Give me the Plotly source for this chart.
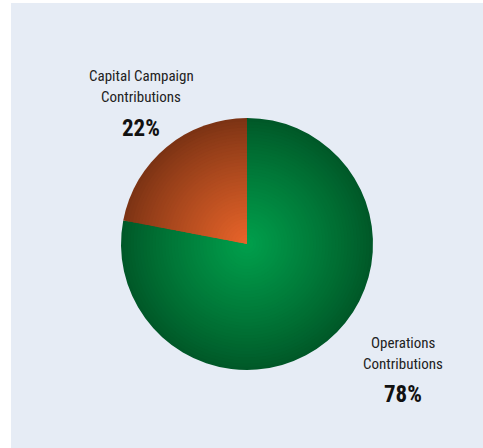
import plotly.graph_objects as go

categories = ["Capital Campaign Contributions", "Operations Contributions"]
label_lines = [["Capital Campaign", "Contributions"], ["Operations", "Contributions"]]
values = [22, 78]
pct_labels = ["22%", "78%"]

W, H = 483, 448
edge_cols = [(0x7c, 0x33, 0x14), (0x00, 0x58, 0x28)]
center_cols = [(0xea, 0x65, 0x2a), (0x00, 0xa0, 0x4c)]

cx, cy, R = 247, 244, 126
N = 40

def mix(a, b, t):
    return "rgb(%d,%d,%d)" % tuple(round(a[k] + (b[k] - a[k]) * t) for k in range(3))

order = [1, 0]  # draw clockwise from 12 o'clock: operations first, capital campaign ends at the top-left
fig = go.Figure()
for i in range(N):
    r = R * (1 - i / N)
    t = (i / N) ** 0.9
    cols = [mix(edge_cols[j], center_cols[j], t) for j in order]
    fig.add_trace(go.Pie(
        labels=[categories[j] for j in order], values=[values[j] for j in order],
        sort=False, direction="clockwise", rotation=0,
        marker=dict(colors=cols, line=dict(width=0)),
        textinfo="none", hoverinfo="skip", showlegend=False,
        domain=dict(x=[(cx - r) / W, (cx + r) / W], y=[1 - (cy + r) / H, 1 - (cy - r) / H]),
    ))

fig.add_shape(type="rect", xref="paper", yref="paper", x0=11 / W, x1=1, y0=0, y1=1 - 3 / H,
              fillcolor="#e6ecf5", line=dict(width=0), layer="below")

font_name = "Liberation Sans Narrow, Roboto Condensed, Open Sans, sans-serif"
label_pos = [(141, 76, 97, 128), (403, 343, 364, 394)]
for j in range(2):
    x, y1, y2, y3 = label_pos[j]
    for line, yy in zip(label_lines[j], (y1, y2)):
        fig.add_annotation(x=x / W, y=1 - yy / H, xref="paper", yref="paper", text=line,
                           showarrow=False, font=dict(family=font_name, size=15, color="#222222"),
                           xanchor="center", yanchor="middle")
    fig.add_annotation(x=x / W, y=1 - y3 / H, xref="paper", yref="paper", text="<b>%s</b>" % pct_labels[j],
                       showarrow=False, font=dict(family=font_name, size=23, color="#111111"),
                       xanchor="center", yanchor="middle")

fig.update_layout(width=W, height=H, margin=dict(l=0, r=0, t=0, b=0),
                  paper_bgcolor="white", plot_bgcolor="white")
fig.write_html("out.html", config={"displayModeBar": False},
               post_script="document.body.style.margin='0';document.body.style.overflow='hidden';")
